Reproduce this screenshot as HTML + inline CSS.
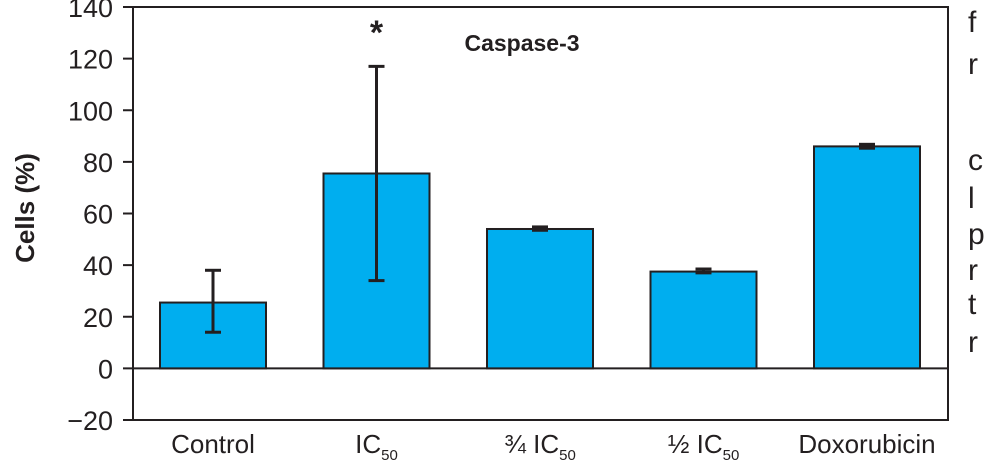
<!DOCTYPE html>
<html><head><meta charset="utf-8"><style>
body{margin:0;background:#fff;width:1008px;height:465px;overflow:hidden}
svg text{font-family:"Liberation Sans",sans-serif;fill:#231f20}
</style></head><body>
<svg id="chart" width="1008" height="465" viewBox="0 0 1008 465" xmlns="http://www.w3.org/2000/svg">
<g id="side" font-size="30">
<text x="968" y="32">f</text><text x="968" y="74">r</text><text x="968" y="170">c</text><text x="968" y="208">l</text><text x="968" y="244">p</text><text x="968" y="280">r</text><text x="968" y="314">t</text><text x="968" y="352">r</text>
</g>
</svg>
<script>
const categories=["Control","IC50","3/4 IC50","1/2 IC50","Doxorubicin"];
const values=[25.5,75.5,54,37.5,86];
const errLow=[14,34,53.5,37,85.3];
const errHigh=[38,117,54.8,38.5,86.8];
const yTicks=[-20,0,20,40,60,80,100,120,140];
const NS="http://www.w3.org/2000/svg";
const svg=document.getElementById('chart');
const L=133,R=948,T=7,B=420,yMin=-20,yMax=140;
const y=v=>B-(v-yMin)/(yMax-yMin)*(B-T);
const xc=i=>213+i*163.5;
const bw=106;
function mk(t,a,p){const e=document.createElementNS(NS,t);for(const k in a)e.setAttribute(k,a[k]);(p||svg).appendChild(e);return e;}
let f=mk('rect',{x:L,y:T,width:R-L,height:B-T,fill:'none',stroke:'#231f20','stroke-width':2});


yTicks.forEach(v=>{
 let t=mk('line',{x1:123,x2:L,y1:y(v),y2:y(v),stroke:'#231f20','stroke-width':2});
 
 
 let l=mk('text',{x:113,y:y(v)+10,'text-anchor':'end','font-size':27});
 l.textContent=(v<0?'\u2212'+(-v):String(v));
 
 
});
let z=mk('line',{x1:L,x2:R,y1:y(0),y2:y(0),stroke:'#231f20','stroke-width':2});


let yt=mk('text',{x:0,y:0,'font-size':26,'font-weight':'bold','text-anchor':'middle',transform:'translate(34,208) rotate(-90)'});
yt.textContent='Cells (%)';


const labels=[['Control',''],['IC','50'],['\u00be IC','50'],['\u00bd IC','50'],['Doxorubicin','']];
values.forEach((v,i)=>{
 let b=mk('rect',{x:xc(i)-bw/2,y:y(v),width:bw,height:y(0)-y(v),fill:'#00aeef',stroke:'#231f20','stroke-width':2});
 
 
 let g=mk('g',{stroke:'#231f20','stroke-width':3});
 
 
 mk('line',{x1:xc(i),x2:xc(i),y1:y(errLow[i]),y2:y(errHigh[i])},g);
 mk('line',{x1:xc(i)-8,x2:xc(i)+8,y1:y(errLow[i]),y2:y(errLow[i])},g);
 mk('line',{x1:xc(i)-8,x2:xc(i)+8,y1:y(errHigh[i]),y2:y(errHigh[i])},g);
 let t=mk('text',{x:xc(i),y:453,'text-anchor':'middle','font-size':26});
 t.textContent=labels[i][0];
 if(labels[i][1]){let s=mk('tspan',{'font-size':15,dy:7},t);s.textContent=labels[i][1];}
 
 
});
let st=mk('text',{x:xc(1),y:44,'text-anchor':'middle','font-size':34,'font-weight':'bold'});
st.textContent='*';


let ti=mk('text',{x:522,y:51,'text-anchor':'middle','font-size':23,'font-weight':'bold'});
ti.textContent='Caspase-3';


</script>
</body></html>
